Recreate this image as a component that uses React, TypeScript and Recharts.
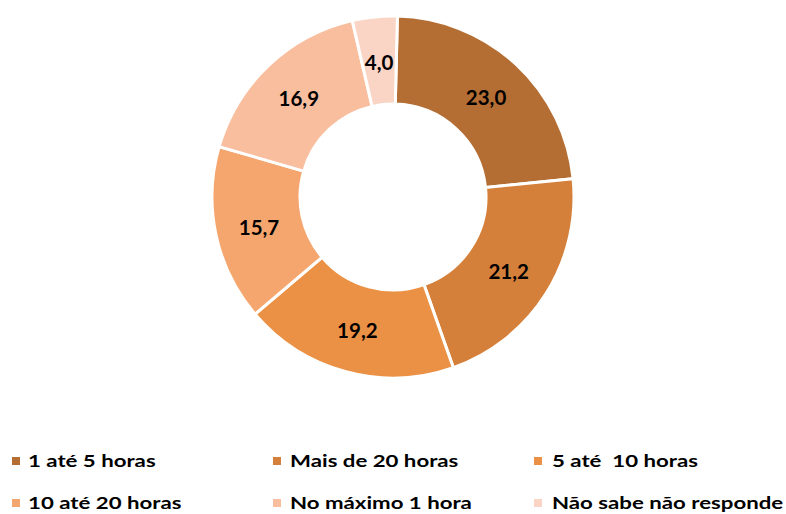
import React from "react";
import { PieChart, Pie, Cell, Legend } from "recharts";

const categories = [
  "1 até 5 horas",
  "Mais de 20 horas",
  "5 até  10 horas",
  "10 até 20 horas",
  "No máximo 1 hora",
  "Não sabe não responde",
];
const values = [23.0, 21.2, 19.2, 15.7, 16.9, 4.0];
const colors = ["#B46D33", "#D5803A", "#EB9145", "#F5A66E", "#F8BE9E", "#FAD4C4"];

const data = categories.map((name, i) => ({ name, value: values[i] }));

const FONT = "Lato, 'Open Sans', sans-serif";

const renderLabel = (props: any) => {
  const { cx, cy, midAngle, innerRadius, outerRadius, value } = props;
  const RAD = Math.PI / 180;
  const r = (innerRadius + outerRadius) / 2;
  const x = cx + r * Math.cos(-midAngle * RAD);
  const y = cy + r * Math.sin(-midAngle * RAD);
  return (
    <text
      x={x}
      y={y + 1}
      textAnchor="middle"
      dominantBaseline="central"
      fill="#000"
      fontFamily={FONT}
      fontWeight={700}
      fontSize={20.5}
    >
      {Number(value).toFixed(1).replace(".", ",")}
    </text>
  );
};

const markerX = [12, 273, 534];
const textX = [28, 290, 552];
const rowY = [457, 499];

const renderLegend = () => (
  <div style={{ position: "absolute", left: 0, top: 0, width: 786, height: 514 }}>
    {categories.map((c, i) => {
      const col = i % 3;
      const row = Math.floor(i / 3);
      return (
        <React.Fragment key={c}>
          <div
            style={{
              position: "absolute",
              left: markerX[col],
              top: rowY[row],
              width: 8,
              height: 8,
              background: colors[i],
            }}
          />
          <div
            style={{
              position: "absolute",
              left: textX[col],
              top: rowY[row] - 8,
              height: 24,
              lineHeight: "24px",
              fontFamily: FONT,
              fontWeight: 700,
              fontSize: 17.5,
              color: "#000",
              whiteSpace: "pre",
              transform: "scaleX(1.27)",
              transformOrigin: "0 50%",
            }}
          >
            {c}
          </div>
        </React.Fragment>
      );
    })}
  </div>
);

export default function App() {
  return (
    <div style={{ position: "absolute", left: 0, top: 0, width: 786, height: 514, background: "#fff" }}>
      <PieChart width={786} height={514} margin={{ top: 0, right: 0, bottom: 0, left: 0 }}>
        <Pie
          data={data}
          dataKey="value"
          cx={393}
          cy={197}
          innerRadius={93}
          outerRadius={181}
          startAngle={88.6}
          endAngle={-271.4}
          stroke="#fff"
          strokeWidth={3}
          label={renderLabel}
          labelLine={false}
          isAnimationActive={false}
        >
          {data.map((d, i) => (
            <Cell key={d.name} fill={colors[i]} />
          ))}
        </Pie>
        <Legend content={renderLegend} wrapperStyle={{ left: 0, top: 0, width: 786, height: 514 }} />
      </PieChart>
    </div>
  );
}
